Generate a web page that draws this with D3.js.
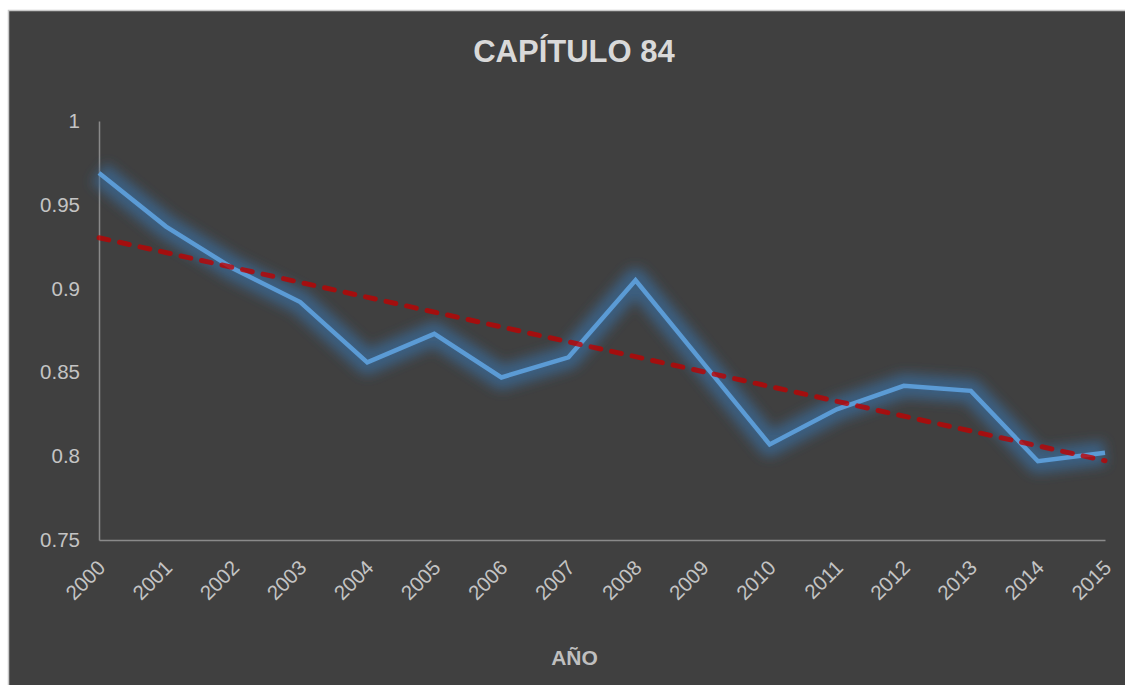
<!DOCTYPE html>
<html>
<head>
<meta charset="utf-8">
<script src="https://cdn.jsdelivr.net/npm/d3@7"></script>
<style>
  html, body { margin: 0; padding: 0; background: #ffffff; }
  svg { display: block; }
</style>
</head>
<body>
<svg id="chart" width="1125" height="685"></svg>
<script>
// Ratio per year, capítulo 84
const years = [2000, 2001, 2002, 2003, 2004, 2005, 2006, 2007,
               2008, 2009, 2010, 2011, 2012, 2013, 2014, 2015];
const values = [0.969, 0.937, 0.912, 0.892, 0.856, 0.873, 0.847, 0.859,
                0.905, 0.856, 0.807, 0.828, 0.842, 0.839, 0.797, 0.802];
const yTicks = [0.75, 0.8, 0.85, 0.9, 0.95, 1];
const yTickLabels = ["0.75", "0.8", "0.85", "0.9", "0.95", "1"];
const titleText = "CAPÍTULO 84";
const xAxisTitle = "AÑO";

const svg = d3.select("#chart");
const font = "'Liberation Sans', Arial, sans-serif";

// Chart frame
svg.append("rect")
  .attr("x", 8.5).attr("y", 10.5)
  .attr("width", 1140).attr("height", 700)
  .attr("fill", "#404040")
  .attr("stroke", "#c8c8c8").attr("stroke-width", 1.5);

const x = d3.scaleLinear().domain([years[0], years[years.length - 1]]).range([99, 1105]);
const y = d3.scaleLinear().domain([0.75, 1]).range([540, 121]);

// Glow filter for the series line
const defs = svg.append("defs");
const glow = defs.append("filter").attr("id", "glow")
  .attr("filterUnits", "userSpaceOnUse")
  .attr("x", 60).attr("y", 100).attr("width", 1090).attr("height", 420);
glow.append("feGaussianBlur").attr("stdDeviation", 6);

// Y axis
const yAxis = d3.axisLeft(y)
  .tickValues(yTicks)
  .tickSize(0)
  .tickPadding(19)
  .tickFormat((d, i) => yTickLabels[i]);
const gy = svg.append("g").attr("transform", "translate(99,0)").call(yAxis);
gy.select(".domain").attr("stroke", "#8a8a8a").attr("stroke-width", 1.5);
gy.selectAll("text")
  .attr("fill", "#c4c4c4")
  .style("font-family", font)
  .style("font-size", "20.5px");

// X axis
const xAxis = d3.axisBottom(x)
  .tickValues(years)
  .tickSize(0)
  .tickFormat(d3.format("d"));
const gx = svg.append("g").attr("transform", "translate(0,540)").call(xAxis);
gx.select(".domain").attr("stroke", "#8a8a8a").attr("stroke-width", 1.5);
gx.selectAll("text")
  .attr("fill", "#c4c4c4")
  .style("font-family", font)
  .style("font-size", "20.5px")
  .attr("text-anchor", "end")
  .attr("x", 0).attr("y", 0).attr("dy", "0")
  .attr("transform", "translate(7,29) rotate(-45)");

// Series line with soft glow
const line = d3.line()
  .x((d, i) => x(years[i]))
  .y(d => y(d));

svg.append("path")
  .datum(values)
  .attr("d", line)
  .attr("fill", "none")
  .attr("stroke", "#3a6a96")
  .attr("stroke-opacity", 0.75)
  .attr("stroke-width", 24)
  .attr("stroke-linejoin", "round")
  .attr("filter", "url(#glow)");

svg.append("path")
  .datum(values)
  .attr("d", line)
  .attr("fill", "none")
  .attr("stroke", "#5b9bd5")
  .attr("stroke-width", 4.5)
  .attr("stroke-linejoin", "miter");

// Linear trend (least squares)
const n = years.length;
const mx = d3.mean(years), my = d3.mean(values);
const sxy = d3.sum(years, (yr, i) => (yr - mx) * (values[i] - my));
const sxx = d3.sum(years, yr => (yr - mx) * (yr - mx));
const slope = sxy / sxx;
const intercept = my - slope * mx;
const trend = [years[0], years[n - 1]].map(yr => [yr, intercept + slope * yr]);

svg.append("path")
  .datum(trend)
  .attr("d", d3.line().x(d => x(d[0])).y(d => y(d[1])))
  .attr("fill", "none")
  .attr("stroke", "#c00000")
  .attr("stroke-opacity", 0.78)
  .attr("stroke-width", 5)
  .attr("stroke-linecap", "round")
  .attr("stroke-dasharray", "10 11");

// Title
svg.append("text")
  .attr("x", 574).attr("y", 62)
  .attr("text-anchor", "middle")
  .attr("fill", "#d9d9d9")
  .style("font-family", font)
  .style("font-weight", "bold")
  .style("font-size", "31px")
  .text(titleText);

// X axis title
svg.append("text")
  .attr("x", 574.5).attr("y", 665)
  .attr("text-anchor", "middle")
  .attr("fill", "#bfbfbf")
  .style("font-family", font)
  .style("font-weight", "bold")
  .style("font-size", "21px")
  .text(xAxisTitle);
</script>
</body>
</html>
